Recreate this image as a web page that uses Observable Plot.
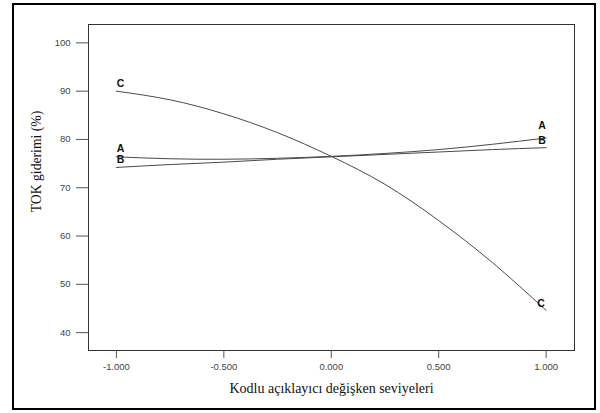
<!DOCTYPE html>
<html>
<head>
<meta charset="utf-8">
<script src="https://cdn.jsdelivr.net/npm/d3@7"></script>
<script src="https://cdn.jsdelivr.net/npm/@observablehq/plot@0.6"></script>
<style>
  html, body { margin: 0; padding: 0; background: #fff; }
  #wrap { position: relative; width: 600px; height: 413px; }
  #border { position: absolute; left: 11.5px; top: 3px; width: 580px; height: 403px; border: 2.5px solid #000; pointer-events: none; }
</style>
</head>
<body>
<div id="wrap"><div id="chart"></div><div id="border"></div></div>
<script>
// Coded levels of each factor
const xLevels = [-1, -0.75, -0.5, -0.25, 0, 0.25, 0.5, 0.75, 1];
// TOK removal (%)
const seriesA = [76.4, 76.0, 75.9, 76.1, 76.5, 77.1, 77.9, 79.0, 80.3];
const seriesB = [74.2, 74.8, 75.3, 75.9, 76.4, 76.9, 77.4, 77.9, 78.3];
const seriesC = [90.0, 88.2, 85.3, 81.4, 76.5, 70.7, 63.2, 54.5, 44.6];
const seriesNames = ["A", "B", "C"];
const xTicks = [-1, -0.5, 0, 0.5, 1];
const yTicks = [40, 50, 60, 70, 80, 90, 100];
const xTitle = "Kodlu açıklayıcı değişken seviyeleri";
const yTitle = "TOK giderimi (%)";

const allSeries = [seriesA, seriesB, seriesC];
const rows = [];
allSeries.forEach((vals, i) => vals.forEach((v, j) => rows.push({series: seriesNames[i], x: xLevels[j], y: v})));
const leftEnds = rows.filter(d => d.x === xLevels[0]);
const rightEnds = rows.filter(d => d.x === xLevels[xLevels.length - 1]);

const labelStyle = {fontSize: 10.5, fontWeight: "bold", fill: "#111", fontFamily: "Liberation Sans, Arial, sans-serif"};
const rightOffsets = {A: [-4, -12], B: [-4, -7.5], C: [-5, -7]};

const chart = Plot.plot({
  width: 600,
  height: 413,
  marginLeft: 88,
  marginRight: 26,
  marginTop: 24,
  marginBottom: 63,
  style: {fontFamily: "Liberation Sans, Arial, sans-serif", background: "white", color: "#222"},
  x: {domain: [-1.13, 1.132], label: null},
  y: {domain: [36.3, 103.8], label: null},
  marks: [
    Plot.frame({stroke: "#333", strokeWidth: 1}),
    Plot.axisX(xTicks, {tickSize: 8, tickPadding: 5, tickFormat: d => d.toFixed(3), fontSize: 9.5, fill: "#444", stroke: "#555", label: null}),
    Plot.axisY(yTicks, {tickSize: 12, tickPadding: 6, fontSize: 9.5, fill: "#444", stroke: "#555", label: null}),
    Plot.line(rows, {x: "x", y: "y", z: "series", stroke: "#4a4a4a", strokeWidth: 1, curve: "natural"}),
    Plot.text(leftEnds, {x: "x", y: "y", text: "series", dx: 4, dy: -8, ...labelStyle}),
    ...seriesNames.map(s => Plot.text(rightEnds.filter(d => d.series === s), {x: "x", y: "y", text: "series", dx: rightOffsets[s][0], dy: rightOffsets[s][1], ...labelStyle})),
    Plot.text([xTitle], {text: d => d, frameAnchor: "bottom", dy: 38, fontSize: 14, fill: "#111", fontFamily: "Liberation Serif, Times New Roman, serif", lineAnchor: "middle"}),
    Plot.text([yTitle], {text: d => d, frameAnchor: "left", dx: -52, dy: -26, rotate: -90, fontSize: 13.7, fill: "#111", fontFamily: "Liberation Serif, Times New Roman, serif", lineAnchor: "middle", textAnchor: "middle"})
  ]
});
document.getElementById("chart").appendChild(chart);
</script>
</body>
</html>
